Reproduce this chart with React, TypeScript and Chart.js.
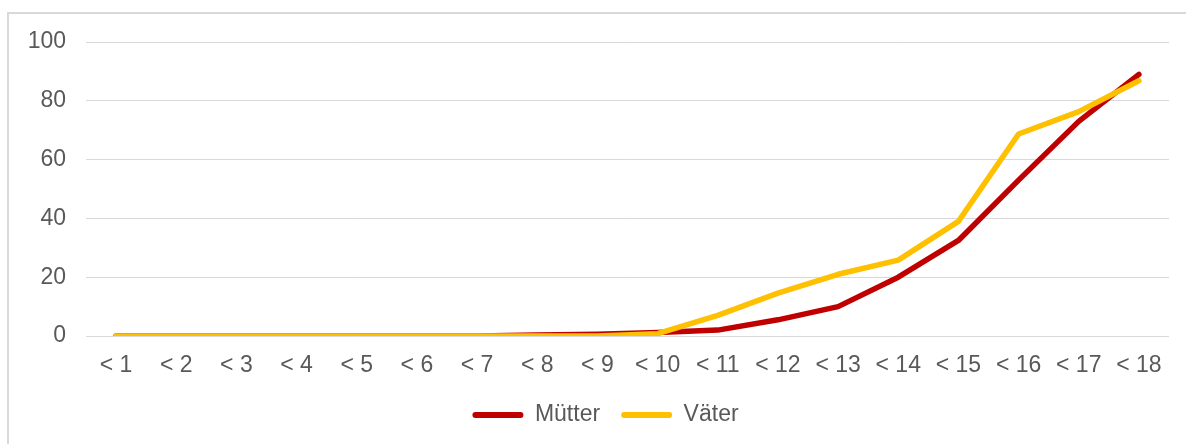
import React, { useEffect, useRef } from "react";
import { Chart, registerables } from "chart.js";

Chart.register(...registerables);

const categories = ["< 1", "< 2", "< 3", "< 4", "< 5", "< 6", "< 7", "< 8", "< 9", "< 10", "< 11", "< 12", "< 13", "< 14", "< 15", "< 16", "< 17", "< 18"];
const muetter = [0, 0, 0, 0, 0, 0, 0, 0.3, 0.6, 1.2, 2, 5.5, 10, 20, 32.5, 53, 73, 89];
const vaeter = [0, 0, 0, 0, 0, 0, 0, 0, 0, 0.8, 7, 14.6, 21, 25.8, 39, 68.7, 76.3, 86.8];
const seriesNames = ["Mütter", "Väter"];
const seriesColors = ["#C00000", "#FFC000"];
const yMin = 0;
const yMax = 100;
const yStep = 20;

const FONT = "'Liberation Sans', Arial, sans-serif";
const TEXT = "#595959";

const shiftLegend = {
  id: "shiftLegend",
  afterLayout(chart: any) {
    const l = chart.legend;
    if (l) {
      l.left += 8;
      l.right += 8;
    }
  },
};

export default function App() {
  const ref = useRef<HTMLCanvasElement | null>(null);

  useEffect(() => {
    if (!ref.current) return;
    const chart = new Chart(ref.current, {
      type: "line",
      data: {
        labels: categories,
        datasets: [
          {
            label: seriesNames[0],
            data: muetter,
            borderColor: seriesColors[0],
            backgroundColor: seriesColors[0],
            borderWidth: 5.5,
            pointRadius: 0,
            pointHoverRadius: 0,
            borderCapStyle: "round",
            borderJoinStyle: "round",
            tension: 0,
            order: 1,
          },
          {
            label: seriesNames[1],
            data: vaeter,
            borderColor: seriesColors[1],
            backgroundColor: seriesColors[1],
            borderWidth: 5.5,
            pointRadius: 0,
            pointHoverRadius: 0,
            borderCapStyle: "round",
            borderJoinStyle: "round",
            tension: 0,
            order: 0,
          },
        ],
      },
      plugins: [shiftLegend],
      options: {
        animation: false,
        responsive: true,
        maintainAspectRatio: false,
        layout: { padding: { left: 26, right: 17, top: 42, bottom: 7.5 } },
        plugins: {
          tooltip: { enabled: false },
          legend: {
            position: "bottom",
            labels: {
              font: { family: FONT, size: 23 },
              color: TEXT,
              boxWidth: 51,
              boxHeight: 6,
              padding: 21,
              useBorderRadius: true,
              borderRadius: 3,
              sort: (a: any, b: any) => a.datasetIndex - b.datasetIndex,
              generateLabels: (c: any) => {
                const items = Chart.defaults.plugins.legend.labels.generateLabels(c);
                return items.map((it: any) => ({ ...it, lineWidth: 0 }));
              },
            },
          },
        },
        scales: {
          x: {
            type: "category",
            offset: true,
            grid: { display: false },
            border: { display: false },
            ticks: {
              font: { family: FONT, size: 23 },
              color: TEXT,
              padding: 8,
              maxRotation: 0,
              autoSkip: false,
            },
            afterFit: (scale: any) => {
              scale.height = 46.5;
            },
          },
          y: {
            min: yMin,
            max: yMax,
            grid: { color: "#d9d9d9", lineWidth: 1, drawTicks: false },
            border: { display: false },
            ticks: {
              stepSize: yStep,
              font: { family: FONT, size: 23 },
              color: TEXT,
              padding: 20,
            },
            afterFit: (scale: any) => {
              scale.width = 60;
            },
          },
        },
      },
    });
    return () => chart.destroy();
  }, []);

  return (
    <div style={{ position: "fixed", left: 0, top: 0, width: 1186, height: 444, overflow: "hidden", background: "#fff" }}>
      <div
        style={{
          position: "absolute",
          left: 7,
          top: 12,
          width: 1220,
          height: 480,
          borderTop: "2px solid #d9d9d9",
          borderLeft: "2px solid #d9d9d9",
        }}
      />
      <div style={{ position: "absolute", left: 0, top: 0, width: 1186, height: 444 }}>
        <canvas ref={ref} />
      </div>
    </div>
  );
}
